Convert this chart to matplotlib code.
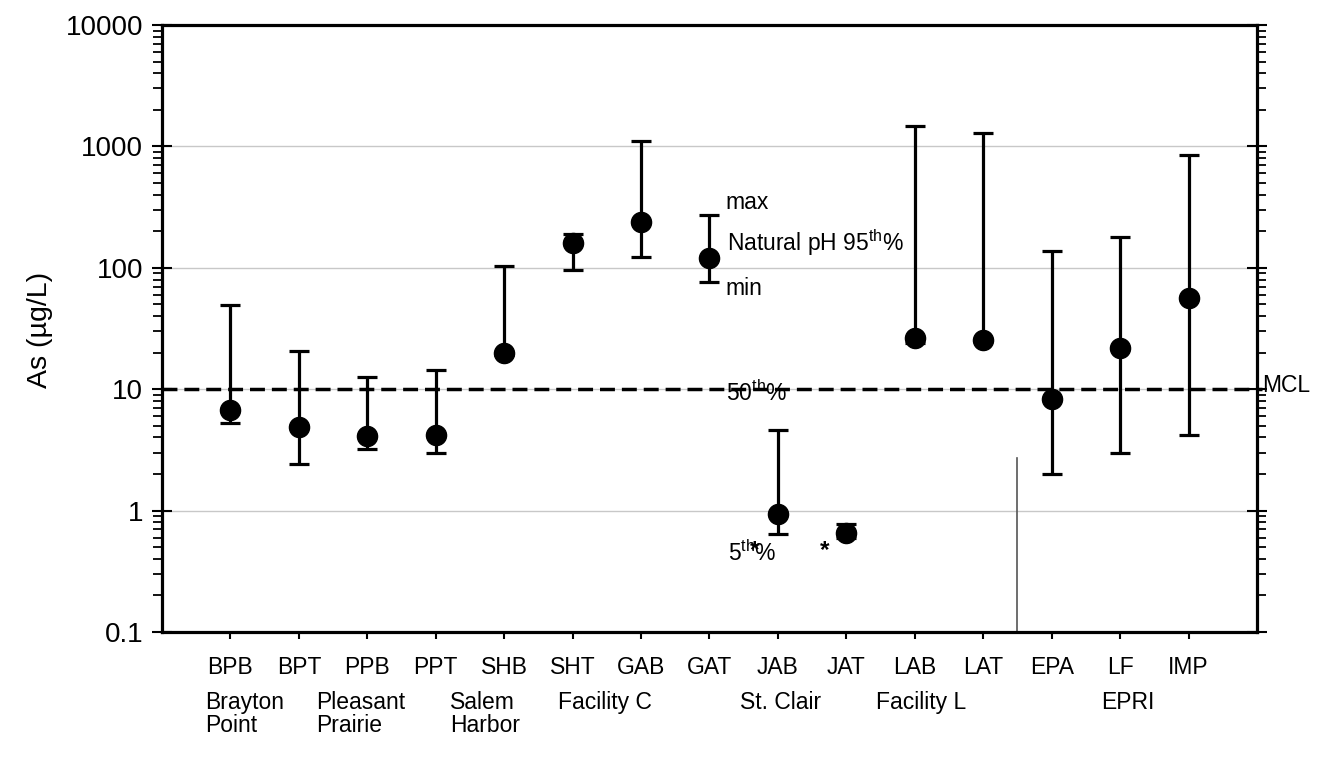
"""Arsenic leachate ranges by facility, log scale."""

import matplotlib

matplotlib.use("Agg")
import matplotlib.pyplot as plt
import matplotlib.transforms as mtransforms
import numpy as np
from matplotlib.ticker import FixedLocator, LogLocator, NullFormatter

plt.rcParams["font.family"] = ["Liberation Sans", "DejaVu Sans"]
plt.rcParams["mathtext.fontset"] = "custom"
plt.rcParams["mathtext.rm"] = "Liberation Sans"
plt.rcParams["mathtext.it"] = "Liberation Sans"

categories = ["BPB", "BPT", "PPB", "PPT", "SHB", "SHT", "GAB", "GAT",
              "JAB", "JAT", "LAB", "LAT", "EPA", "LF", "IMP"]
p95 = [6.7, 4.9, 4.1, 4.2, 19.8, 159, 240, 121,
       0.93, 0.65, 26.3, 25.4, 8.3, 21.7, 56]
vmin = [5.3, 2.4, 3.2, 3.0, 19.0, 95, 123, 77,
        0.64, 0.60, 24.0, 25.0, 2.0, 3.0, 4.2]
vmax = [49, 20.5, 12.7, 14.4, 104, 189, 1114, 272,
        4.6, 0.78, 1472, 1297, 138, 178, 849]

groups = ["Brayton\nPoint", "Pleasant\nPrairie", "Salem\nHarbor", "Facility C",
          "St. Clair", "Facility L", "EPRI"]
group_x = [0.63, 2.25, 4.21, 5.79, 8.45, 10.43, 13.72]

mcl = 10
divider_x = 12.5
divider_top = 2.7

FS = 16.5

fig = plt.figure(figsize=(13.19, 7.64), dpi=100)
ax = fig.add_axes([0.1228, 0.1728, 0.953 - 0.1228, 0.9673 - 0.1728])

x = np.arange(1, len(categories) + 1)
p95_arr = np.array(p95)
lower = p95_arr - np.array(vmin)
upper = np.array(vmax) - p95_arr

ax.errorbar(x, p95_arr, yerr=[lower, upper], fmt="o", color="black",
            markersize=14.5, elinewidth=2.3, capsize=7, capthick=2.3, zorder=4)

ax.set_yscale("log")
ax.set_ylim(0.1, 10000)
ax.set_xlim(0, 16)

# grid
for v in [1, 10, 100, 1000]:
    ax.axhline(v, color="#c8c8c8", lw=1.0, zorder=1)

# MCL line running past the right axis
ax.plot([0, 16.07], [mcl, mcl], color="black", lw=2.5, dashes=(4.3, 2.0),
        clip_on=False, zorder=3)
ax.text(16.07, mcl * 1.08, "MCL", fontsize=FS, va="center", ha="left")

ax.plot([divider_x, divider_x], [0.1, divider_top], color="#555555", lw=1.2, zorder=2)

# legend-like annotations
ax.text(8.23, 348, "max", fontsize=FS, va="center", ha="left")
ax.text(8.26, 160, r"Natural pH 95$^{\mathrm{th}}$%", fontsize=FS, va="center", ha="left")
ax.text(8.23, 68, "min", fontsize=FS, va="center", ha="left")
ax.text(8.69, 9.2, r"50$^{\mathrm{th}}$%", fontsize=FS, va="center", ha="center")
ax.text(8.27, 0.45, r"5$^{\mathrm{th}}$%", fontsize=FS, va="center", ha="left")
for ax_x in [8.66, 9.69]:
    ax.text(ax_x, 0.47, "*", fontsize=FS + 1, fontweight="bold", va="center", ha="center")

# axes styling
for side in ["left", "right", "top", "bottom"]:
    ax.spines[side].set_linewidth(2.3)

ax.yaxis.set_major_locator(FixedLocator([0.1, 1, 10, 100, 1000, 10000]))
ax.yaxis.set_minor_locator(LogLocator(base=10, subs=np.arange(2, 10)))
ax.yaxis.set_minor_formatter(NullFormatter())
ax.set_yticklabels(["0.1", "1", "10", "100", "1000", "10000"])
ax.tick_params(axis="y", which="major", direction="inout", length=14, width=1.5,
               labelsize=20, left=True, right=True, pad=6.5)
ax.tick_params(axis="y", which="minor", direction="out", length=6.5, width=1.3,
               left=True, right=True)

ax.set_xticks(x)
ax.set_xticklabels(categories)
ax.tick_params(axis="x", which="major", direction="out", length=5, width=1.5,
               labelsize=FS, pad=12, top=False)

fig.text(40 / 1319, 1 - 330 / 764, "As (µg/L)", rotation=90, fontsize=20.5,
         ha="center", va="center")

trans = mtransforms.blended_transform_factory(ax.transData, ax.transAxes)
for label, gx in zip(groups, group_x):
    ax.text(gx, -0.097, label, transform=trans, fontsize=FS, ha="left", va="top",
            linespacing=1.0)

fig.savefig("out.png", dpi=100)
